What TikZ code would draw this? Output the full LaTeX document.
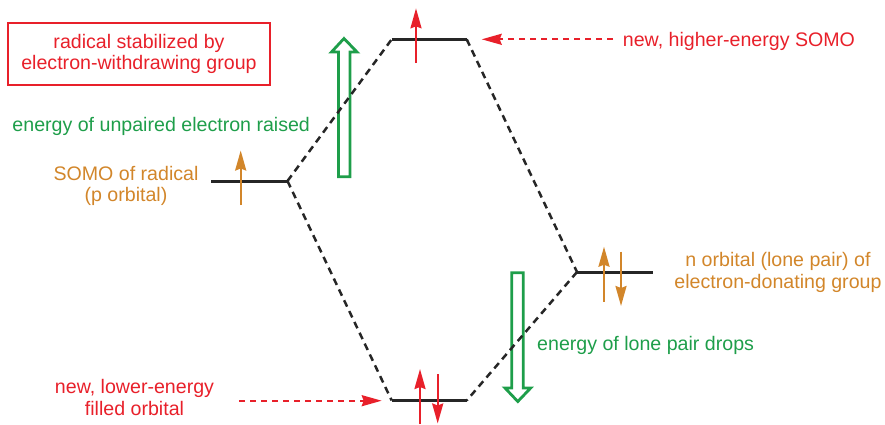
\documentclass[tikz,border=0pt]{standalone}
\usepackage{fontspec}
\setmainfont{Liberation Sans}
\usetikzlibrary{arrows.meta}
\definecolor{myred}{HTML}{E8202A}
\definecolor{mygreen}{HTML}{1E9E4A}
\definecolor{myorange}{HTML}{D2862A}
\begin{document}
\begin{tikzpicture}[x=1bp,y=-1bp,
 lvl/.style={line width=3bp, draw=black!85},
 corr/.style={line width=2.5bp, dash pattern=on 7bp off 5bp, draw=black!85},
 elec/.style={line width=2.2bp, -{Stealth[length=20bp,width=11bp,inset=2bp]}},
 lab/.style={font=\fontsize{19.6bp}{21.5bp}\selectfont, inner sep=0pt, align=center},
 ptr/.style={myred, line width=2bp, dash pattern=on 6bp off 5bp, -{Stealth[length=20bp,width=11bp,inset=2bp]}},
 big/.style={draw=mygreen, line width=2.8bp, line join=miter}
]
\useasboundingbox (0,0) rectangle (885,424);

% level end points
\coordinate (Al) at (211,181);   \coordinate (Ar) at (287.5,181);
\coordinate (Tl) at (391.7,39.3); \coordinate (Tr) at (466.7,39.3);
\coordinate (Bl) at (391.7,400.5); \coordinate (Br) at (466.7,400.5);
\coordinate (Nl) at (577,272);   \coordinate (Nr) at (653,272);

% green hollow arrows
\draw[big] (338.5,176.7) -- (338.5,52) -- (331.5,52) -- (344,38.5) -- (357,52) -- (350,52) -- (350,176.7) -- cycle;
\draw[big] (511.7,272.7) -- (511.7,388) -- (505,388) -- (517.8,401.5) -- (530.7,388) -- (523.3,388) -- (523.3,272.7) -- cycle;

% correlation lines
\draw[corr] (Ar) -- (Tl);
\draw[corr] (Ar) -- (Bl);
\draw[corr] (Tr) -- (Nl);
\draw[corr] (Nl) -- (Br);

% levels
\draw[lvl] (Al) -- (Ar);
\draw[lvl] (Tl) -- (Tr);
\draw[lvl] (Bl) -- (Br);
\draw[lvl] (Nl) -- (Nr);

% electrons
\draw[elec, myorange] (240.7,205) -- (240.7,150.5);
\draw[elec, myred] (416,63) -- (416,8.3);
\draw[elec, myorange] (604,301.5) -- (604,246.7);
\draw[elec, myorange] (621,251.7) -- (621,306);
\draw[elec, myred] (420,424) -- (420,369);
\draw[elec, myred] (437.7,374) -- (437.7,423.5);

% labels
\node[lab, myred, draw=myred, line width=2.2bp, minimum width=262bp, minimum height=62bp] (box) at (139,54) {radical stabilized by\\electron-withdrawing group};
\node[lab, mygreen, anchor=west] (raised) at (12.3,126.7) {energy of unpaired electron raised};
\node[lab, myorange] (somo) at (126,186) {SOMO of radical\\(p orbital)};
\node[lab, myorange] (norb) at (778,272.5) {n orbital (lone pair) of\\electron-donating group};
\node[lab, mygreen, anchor=west] (drops) at (537,345.7) {energy of lone pair drops};
\node[lab, myred, anchor=west] (hi) at (622.7,41.7) {new, higher-energy SOMO};
\node[lab, myred] (lo) at (134.5,397.5) {new, lower-energy\\filled orbital};

% pointers
\coordinate (hiS) at (613,39.3); \coordinate (hiE) at (481.7,39.3);
\coordinate (loS) at (239,400.7); \coordinate (loE) at (381.7,400.7);
\draw[ptr] (hiS) -- (hiE);
\draw[ptr] (loS) -- (loE);
\end{tikzpicture}
\end{document}
